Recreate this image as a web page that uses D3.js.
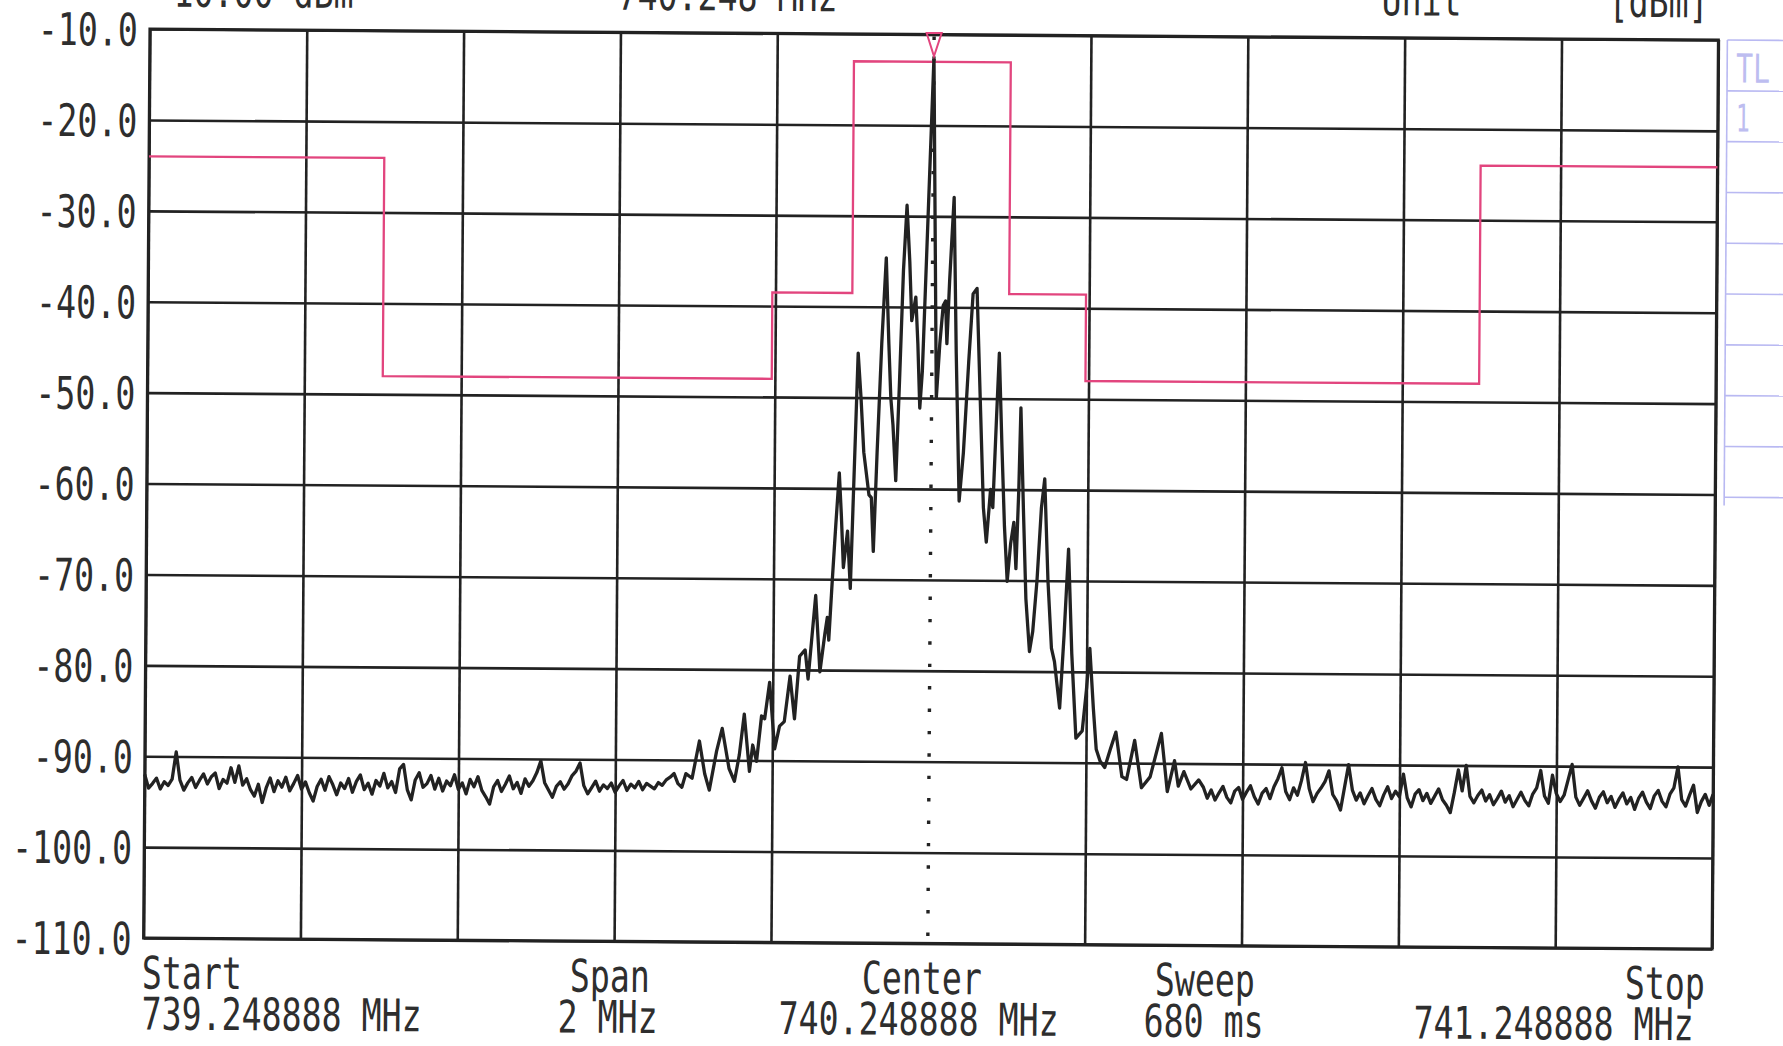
<!DOCTYPE html>
<html><head><meta charset="utf-8">
<script src="https://cdn.jsdelivr.net/npm/d3@7"></script>
<style>html,body{margin:0;padding:0;background:#fff;overflow:hidden}</style>
</head><body>
<svg id="chart" width="1783" height="1046"></svg>
<script>
// ---------------- data ----------------
const startMHz = 739.248888;
const stopMHz = 741.248888;
const centerMHz = 740.248888;
const yTickValues = [-10, -20, -30, -40, -50, -60, -70, -80, -90, -100, -110];
const xGridKHz = [0, 200, 400, 600, 800, 1200, 1400, 1600, 1800, 2000]; // solid grid (center is dotted)
const headerTexts = ["-10.00 dBm", "740.248 MHz", "Unit", "[dBm]"];
const footerTitles = ["Start", "Span", "Center", "Sweep", "Stop"];
const footerValues = ["739.248888 MHz", "2 MHz", "740.248888 MHz", "680 ms", "741.248888 MHz"];
const sidePanelTexts = ["TL", "1"];
// limit line: [offset kHz from start, dBm] (step after)
const limitLine = [[0,-24],[300,-48],[796,-38.5],[898,-13],[1098,-38.5],[1196,-48],[1698,-24],[2000,-24]];
const markerKHz = 1000, markerDbm = -12.4;

// trace: [offset kHz from start, dBm]
const traceLowSide = [
[0,-92.0],[5,-93.5],[10,-93.0],[15,-92.4],[20,-93.6],[25,-92.8],[30,-93.2],[35,-92.5],[40,-89.5],[45,-92.6],
[50,-93.7],[55,-92.9],[60,-92.3],[65,-93.4],[70,-92.6],[75,-91.9],[80,-93.0],[85,-92.2],[90,-91.8],[95,-93.5],
[100,-92.5],[105,-92.9],[110,-91.2],[115,-92.8],[120,-91.0],[125,-93.1],[130,-92.4],[135,-93.6],[140,-94.3],[145,-93.0],
[150,-95.0],[155,-93.4],[160,-92.3],[165,-93.8],[170,-92.6],[175,-93.3],[180,-92.2],[185,-93.7],[190,-92.9],[195,-92.0],
[200,-93.5],[205,-92.7],[210,-93.9],[215,-94.8],[220,-93.2],[225,-92.4],[230,-93.6],[235,-92.1],[240,-93.0],[245,-94.1],
[250,-92.8],[255,-93.4],[260,-92.3],[265,-93.8],[270,-92.6],[275,-91.9],[280,-93.5],[285,-92.8],[290,-94.0],[295,-92.5],
[300,-93.1],[305,-91.7],[310,-93.3],[315,-92.6],[320,-93.8],[325,-91.2],[330,-90.7],[335,-93.5],[340,-94.6],[345,-92.4],
[350,-91.6],[355,-93.2],[360,-92.8],[365,-91.9],[370,-93.4],[375,-92.2],[380,-93.6],[385,-92.5],[390,-93.0],[395,-91.8],
[400,-93.4],[405,-92.7],[410,-93.9],[415,-92.3],[420,-93.1],[425,-92.0],[430,-93.5],[435,-94.2],[440,-95.0],[445,-93.1],
[450,-92.4],[455,-93.6],[460,-92.8],[465,-91.9],[470,-93.3],[475,-92.6],[480,-93.8],[485,-92.2],[490,-93.0],[495,-92.4],
[500,-91.5],[505,-90.2],[510,-92.6],[515,-93.4],[520,-94.2],[525,-93.0],[530,-92.5],[535,-93.3],[540,-92.7],[545,-91.8],
[550,-91.3],[555,-90.4],[560,-92.9],[565,-93.8],[570,-93.1],[575,-92.4],[580,-93.5],[585,-92.8],[590,-93.2],[595,-92.6],
[600,-93.6],[605,-92.9],[610,-92.3],[615,-93.4],[620,-92.7],[625,-93.1],[630,-92.4],[635,-93.3],[640,-92.6],[645,-92.9],
[650,-93.2],[655,-92.5],[660,-92.8],[665,-92.2],[670,-91.9],[675,-91.5],[680,-92.6],[685,-93.0]
];
const traceCenter = [
[690,-91.5],[698,-92.0],[707,-87.9],[714,-91.5],[720,-93.3],[729,-89.0],[736,-86.5],[745,-90.9],[752,-92.3],[758,-89.4],
[764,-84.9],[771,-91.2],[775,-88.3],[780,-90.1],[786,-85.1],[790,-85.4],[796,-81.4],[803,-88.7],[809,-86.2],[815,-85.7],
[822,-80.7],[828,-85.4],[834,-78.5],[841,-77.8],[845,-81.0],[854,-71.8],[860,-80.2],[866,-76.0],[869,-74.2],[871,-76.7],
[875,-70.1],[879,-64.0],[883,-58.3],[886,-63.0],[889,-68.7],[894,-64.7],[898,-71.0],[902,-58.0],[906,-45.1],[910,-50.0],
[914,-56.0],[921,-60.7],[924,-61.0],[927,-66.9],[931,-56.0],[936,-44.0],[941,-34.6],[945,-44.0],[948,-50.0],[951,-53.0],
[955,-59.1],[959,-48.0],[963,-36.0],[967,-28.8],[971,-35.0],[974,-41.5],[979,-38.9],[982,-44.0],[985,-51.1],[988,-47.0],
[1000,-12.5],[1006,-50.0],[1010,-44.0],[1014,-39.8],[1017,-39.3],[1019,-44.0],[1022,-37.0],[1027,-27.9],[1031,-45.0],[1036,-61.3],
[1041,-56.0],[1047,-46.0],[1052,-38.5],[1057,-37.9],[1062,-50.0],[1067,-62.0],[1071,-65.8],[1076,-60.0],[1079,-62.0],[1083,-52.0],
[1086,-45.0],[1090,-55.0],[1094,-64.0],[1098,-70.1],[1102,-66.0],[1106,-63.6],[1109,-68.7],[1112,-60.0],[1114,-51.0],[1118,-62.0],
[1122,-72.0],[1127,-77.8],[1131,-75.6],[1136,-70.0],[1141,-62.0],[1145,-58.8],[1150,-70.0],[1155,-77.4],[1159,-78.9],[1166,-84.0],
[1171,-76.0],[1176,-66.5],[1181,-78.0],[1187,-87.3],[1195,-86.5],[1200,-82.0],[1204,-77.4],[1209,-84.0],[1213,-88.5],[1218,-89.8],
[1224,-90.5],[1231,-88.5],[1238,-86.6],[1246,-91.5],[1252,-91.8],[1262,-87.5],[1271,-92.7],[1282,-91.5],[1296,-86.7],[1304,-93.1],
[1313,-89.7],[1318,-92.5],[1325,-90.9],[1334,-92.8],[1344,-91.8]
];
const traceHighSide = [
[1350,-92.6],[1355,-93.8],[1360,-92.9],[1365,-94.0],[1370,-93.2],[1375,-92.5],[1380,-93.7],[1385,-94.3],[1390,-93.0],[1395,-92.6],
[1400,-93.9],[1405,-93.1],[1410,-92.4],[1415,-93.6],[1420,-94.4],[1425,-93.2],[1430,-92.7],[1435,-93.8],[1440,-92.5],[1445,-91.6],
[1450,-90.4],[1455,-93.0],[1460,-93.9],[1465,-92.6],[1470,-93.4],[1475,-91.8],[1480,-89.8],[1485,-92.7],[1490,-94.1],[1495,-93.2],
[1500,-92.6],[1505,-91.9],[1510,-90.7],[1515,-93.3],[1520,-94.0],[1525,-95.0],[1530,-92.5],[1535,-90.0],[1540,-92.8],[1545,-93.9],
[1550,-93.1],[1555,-94.3],[1560,-93.4],[1565,-92.6],[1570,-93.8],[1575,-94.5],[1580,-93.3],[1585,-92.4],[1590,-93.7],[1595,-92.9],
[1600,-93.5],[1605,-91.0],[1610,-93.6],[1615,-94.6],[1620,-93.2],[1625,-92.7],[1630,-93.9],[1635,-93.1],[1640,-94.2],[1645,-93.4],
[1650,-92.6],[1655,-93.8],[1660,-94.4],[1665,-95.2],[1670,-93.0],[1675,-90.5],[1680,-92.8],[1685,-90.0],[1690,-93.4],[1695,-94.1],
[1700,-93.3],[1705,-92.7],[1710,-93.9],[1715,-93.2],[1720,-94.3],[1725,-93.6],[1730,-92.8],[1735,-94.0],[1740,-93.3],[1745,-94.5],
[1750,-93.7],[1755,-92.9],[1760,-93.8],[1765,-94.4],[1770,-93.1],[1775,-92.4],[1780,-90.5],[1785,-93.3],[1790,-94.1],[1795,-91.0],
[1800,-93.0],[1805,-93.9],[1810,-93.2],[1815,-91.5],[1820,-89.8],[1825,-93.4],[1830,-94.3],[1835,-93.5],[1840,-92.7],[1845,-93.8],
[1850,-94.6],[1855,-93.4],[1860,-92.8],[1865,-94.0],[1870,-93.3],[1875,-94.5],[1880,-93.6],[1885,-92.9],[1890,-94.1],[1895,-93.4],
[1900,-94.7],[1905,-93.5],[1910,-92.8],[1915,-93.9],[1920,-94.6],[1925,-93.2],[1930,-92.6],[1935,-93.8],[1940,-94.4],[1945,-93.0],
[1950,-92.3],[1955,-90.0],[1960,-93.6],[1965,-94.3],[1970,-93.1],[1975,-92.0],[1980,-95.0],[1985,-93.8],[1990,-93.0],[1995,-94.2],
[2000,-93.0]
];

// ---------------- layout ----------------
const L = 146.5, R = 1715, T = 34.5, B = 943.5;
const INK = "#222", PINK = "#e2457e", BLUE = "#b9b9f2";
const FONT = "'DejaVu Sans Mono', 'Liberation Mono', monospace";
const FS = 45, ADV = 20;

const svg = d3.select("#chart");
svg.append("rect").attr("width", 1783).attr("height", 1046).attr("fill", "#fff");
const g = svg.append("g").attr("transform", "rotate(0.4 930 520)");

const kHzToMHz = k => startMHz + k / 1000;
const x = d3.scaleLinear().domain([startMHz, stopMHz]).range([L, R]);
const y = d3.scaleLinear().domain([-110, -10]).range([B, T]);

function txt(parent, s, xx, yy, anchor, opts = {}) {
  return parent.append("text")
    .attr("x", xx).attr("y", yy)
    .attr("text-anchor", anchor || "start")
    .attr("font-family", FONT)
    .attr("font-size", opts.fs || FS)
    .attr("fill", opts.fill || "#2e2e2e")
    .attr("textLength", s.length * (opts.adv || ADV))
    .attr("lengthAdjust", "spacingAndGlyphs")
    .text(s);
}

// y grid + labels
const yAxis = d3.axisLeft(y).tickValues(yTickValues).tickSize(-(R - L)).tickPadding(12)
  .tickFormat(d => d.toFixed(1));
const gy = g.append("g").attr("transform", `translate(${L},0)`).call(yAxis);
gy.select(".domain").remove();
gy.selectAll(".tick line").attr("stroke", INK).attr("stroke-width", 2.6);
gy.selectAll(".tick text").each(function(d) {
  const s = d.toFixed(1);
  d3.select(this).attr("font-family", FONT).attr("font-size", FS).attr("fill", "#2e2e2e")
    .attr("x", -12).attr("dy", "0.36em")
    .attr("textLength", s.length * ADV).attr("lengthAdjust", "spacingAndGlyphs");
});

// x grid
const xAxis = d3.axisBottom(x).tickValues(xGridKHz.map(kHzToMHz)).tickSize(-(B - T)).tickFormat("");
const gx = g.append("g").attr("transform", `translate(0,${B})`).call(xAxis);
gx.select(".domain").remove();
gx.selectAll(".tick line").attr("stroke", INK).attr("stroke-width", 2.6);

// border
g.append("rect").attr("x", L).attr("y", T).attr("width", R - L).attr("height", B - T)
  .attr("fill", "none").attr("stroke", INK).attr("stroke-width", 3);

// center dotted line
g.append("line").attr("x1", x(centerMHz)).attr("x2", x(centerMHz)).attr("y1", T + 2).attr("y2", B)
  .attr("stroke", INK).attr("stroke-width", 3.4).attr("stroke-dasharray", "3.4 19");

// limit line
const limLine = d3.line().x(d => x(kHzToMHz(d[0]))).y(d => y(d[1])).curve(d3.curveStepAfter);
g.append("path").attr("d", limLine(limitLine)).attr("fill", "none")
  .attr("stroke", PINK).attr("stroke-width", 2.3);

// trace
const trace = traceLowSide.concat(traceCenter, traceHighSide);
const line = d3.line().x(d => x(kHzToMHz(d[0]))).y(d => y(d[1]));
g.append("path").attr("d", line(trace)).attr("fill", "none")
  .attr("stroke", INK).attr("stroke-width", 3.3).attr("stroke-linejoin", "round");

// marker triangle
const mx = x(kHzToMHz(markerKHz)), my = y(markerDbm);
g.append("path").attr("d", `M${mx - 7.5},${T - 1.5} L${mx + 7.5},${T - 1.5} L${mx},${my} Z`)
  .attr("fill", "none").attr("stroke", PINK).attr("stroke-width", 2);

// header (cut at top edge)
const headerX = [150, 614, 1378, 1605];
headerTexts.forEach((s, i) => txt(g, s, headerX[i], 12, "start"));

// footer
const footTitleX = [145, 573, 865, 1158, 1628];
const footValX = [145, 561, 782, 1147, 1417];
footerTitles.forEach((s, i) => txt(g, s, footTitleX[i], 994, "start"));
footerValues.forEach((s, i) => txt(g, s, footValX[i], 1035, "start"));

// side panel
const sp = g.append("g");
sp.append("line").attr("x1", 1724).attr("x2", 1724).attr("y1", T).attr("y2", 500)
  .attr("stroke", BLUE).attr("stroke-width", 1.6);
d3.range(10).forEach(i => {
  sp.append("line").attr("x1", 1724).attr("x2", 1800)
    .attr("y1", T + i * 50.8).attr("y2", T + i * 50.8)
    .attr("stroke", BLUE).attr("stroke-width", 1.6);
});
txt(sp, sidePanelTexts[0], 1733, 77, "start", {fs: 40, adv: 17, fill: "#bdbdf0"});
txt(sp, sidePanelTexts[1], 1733, 126, "start", {fs: 38, adv: 14, fill: "#bdbdf0"});
</script>
</body></html>
